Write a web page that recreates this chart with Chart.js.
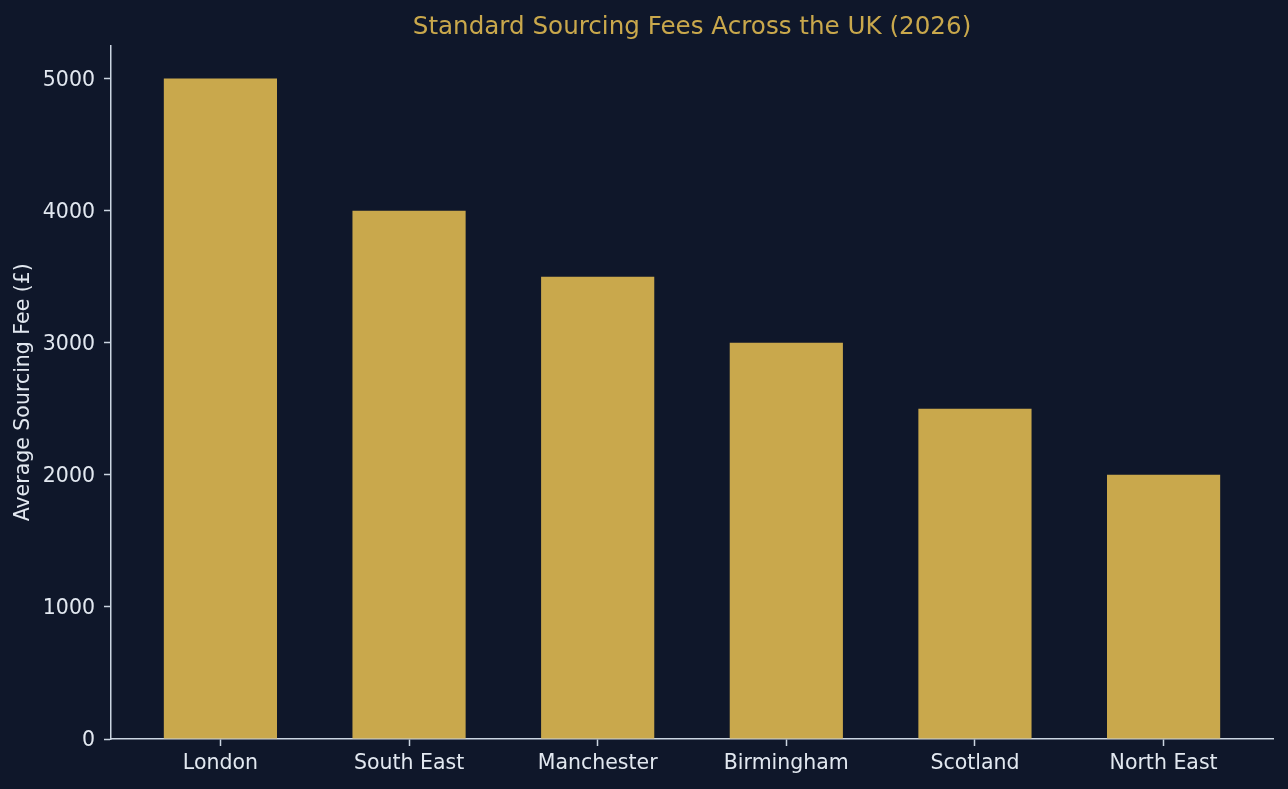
<!DOCTYPE html>
<html>
<head>
<meta charset="utf-8">
<script src="https://cdn.jsdelivr.net/npm/chart.js@4.4.1/dist/chart.umd.min.js"></script>
<style>
  html, body { margin: 0; padding: 0; background: #0f172a; }
  canvas { display: block; }
</style>
</head>
<body>
<canvas id="c" width="1288" height="789"></canvas>
<script>
const categories = ["London", "South East", "Manchester", "Birmingham", "Scotland", "North East"];
const fees = [5000, 4000, 3500, 3000, 2500, 2000];
const yTickValues = [0, 1000, 2000, 3000, 4000, 5000];
const titleText = "Standard Sourcing Fees Across the UK (2026)";
const yAxisLabel = "Average Sourcing Fee (£)";

const BG = "#0f172a";
const GOLD = "#c9a84c";
const TEXT = "#e2e8f0";
const AXIS = "#cbd5e1";
const FONT = "'DejaVu Sans', sans-serif";

const bgPlugin = {
  id: "bg",
  beforeDraw(chart) {
    const ctx = chart.ctx;
    ctx.save();
    ctx.fillStyle = BG;
    ctx.fillRect(0, 0, chart.width, chart.height);
    ctx.restore();
  }
};

new Chart(document.getElementById("c"), {
  type: "bar",
  data: {
    datasets: [{
      data: fees.map((v, i) => ({ x: i, y: v })),
      backgroundColor: GOLD,
      borderWidth: 0,
      barPercentage: 0.6,
      categoryPercentage: 1.0
    }]
  },
  options: {
    responsive: false,
    animation: false,
    devicePixelRatio: 1,
    layout: { padding: { left: 0, right: 15, top: 0, bottom: 0 } },
    plugins: {
      legend: { display: false },
      tooltip: { enabled: false },
      title: {
        display: true,
        text: titleText,
        color: GOLD,
        fullSize: false,
        font: { family: FONT, size: 24.6, weight: "normal", lineHeight: 1.2 },
        padding: { top: 13, bottom: 3 }
      }
    },
    scales: {
      x: {
        type: "linear",
        min: -0.58,
        max: 5.58,
        offset: false,
        afterBuildTicks: (axis) => { axis.ticks = categories.map((c, i) => ({ value: i })); },
        afterFit: (axis) => { axis.height = 50; },
        ticks: {
          callback: (v) => categories[v],
          color: TEXT,
          font: { family: FONT, size: 20.5 },
          padding: 5,
          maxRotation: 0,
          autoSkip: false
        },
        grid: {
          display: true,
          offset: false,
          drawOnChartArea: false,
          drawTicks: true,
          tickLength: 7,
          tickColor: AXIS,
          tickWidth: 1.5
        },
        border: { display: true, color: AXIS, width: 1.5 }
      },
      y: {
        min: 0,
        max: 5250,
        afterBuildTicks: (axis) => { axis.ticks = yTickValues.map(v => ({ value: v })); },
        afterFit: (axis) => { axis.width = 111; },
        ticks: {
          callback: (v) => String(v),
          color: TEXT,
          font: { family: FONT, size: 20.5 },
          padding: 9,
          labelOffset: 2
        },
        grid: {
          display: true,
          drawOnChartArea: false,
          drawTicks: true,
          tickLength: 7,
          tickColor: AXIS,
          tickWidth: 1.5
        },
        border: { display: true, color: AXIS, width: 1.5 },
        title: {
          display: true,
          text: yAxisLabel,
          color: TEXT,
          font: { family: FONT, size: 20.5, lineHeight: 1.2 },
          padding: { top: 11.7, bottom: 0 }
        }
      }
    }
  },
  plugins: [bgPlugin]
});
</script>
</body>
</html>
